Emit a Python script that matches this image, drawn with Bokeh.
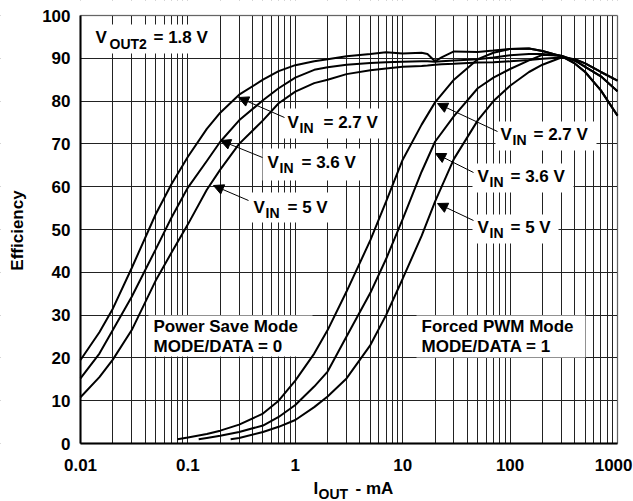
import math
from bokeh.plotting import figure
from bokeh.models import (Range1d, FixedTicker, Label, Arrow, NormalHead,
                          BoxAnnotation, CustomJSTickFormatter)
from bokeh.embed import file_html
from bokeh.resources import INLINE

# ---------------- data ----------------
# Power Save Mode (MODE/DATA = 0)
psm_current = [0.01, 0.015, 0.02, 0.03, 0.05, 0.07, 0.1, 0.15, 0.2, 0.3,
               0.5, 0.7, 1, 1.5, 2, 3, 5, 7, 10, 15,
               17, 20, 23, 30, 50, 70, 100, 150, 200, 300,
               400, 500, 700, 1000]
psm_vin27 = [19.5, 26, 31.5, 41, 53.5, 60.5, 67, 73.5, 77.3, 81.5,
             85, 87, 88.4, 89.3, 89.8, 90.5, 91, 91.4, 91.1, 91.3,
             91, 89.3, 90.2, 91.6, 91.5, 91.8, 92.2, 92.3, 91.7, 90.5,
             88.8, 86.8, 82.5, 76.6]
psm_vin36 = [15.2, 21, 26.5, 34.3, 45.3, 52.7, 59.8, 66, 70.5, 75.5,
             80.2, 83, 85.5, 87.3, 87.9, 88.5, 88.9, 89.1, 89.2, 89.3,
             89.3, 89.2, 89.3, 89.5, 89.8, 90.2, 90.7, 91, 91, 90.6,
             89.5, 88, 85.8, 82.3]
psm_vin5 = [10.8, 15.5, 19.6, 26.5, 38, 44.5, 51.2, 59.3, 64, 70,
            75.5, 79.5, 82.2, 84.2, 85, 86.3, 87.2, 87.6, 88, 88.2,
            88.3, 88.5, 88.6, 88.7, 89, 89.1, 89.3, 89.6, 89.9, 90.2,
            89.8, 88.8, 86.8, 84.8]

# Forced PWM Mode (MODE/DATA = 1)
pwm27_current = [0.08, 0.1, 0.15, 0.2, 0.3, 0.5, 0.7, 1, 1.5, 2, 3, 5, 7, 10,
                 15, 20, 30, 50, 70, 100, 150, 200, 300, 400, 500, 700, 1000]
pwm_vin27 = [1.0, 1.4, 2.2, 3.0, 4.4, 7.0, 10.0, 14.7, 21.0, 26.5, 35.5, 47.5,
             56.5, 66.3, 74.5, 79.7, 85.0, 89.8, 91.3, 92.2, 92.3, 91.7, 90.5,
             88.8, 86.8, 82.5, 76.6]
pwm36_current = [0.126, 0.15, 0.2, 0.3, 0.5, 0.7, 1, 1.5, 2, 3, 5, 7, 10, 15,
                 20, 30, 50, 70, 100, 150, 200, 300, 400, 500, 700, 1000]
pwm_vin36 = [1.0, 1.3, 1.8, 2.7, 4.2, 6.2, 9.0, 13.3, 16.8, 25.0, 35.2, 43.1,
             52.4, 63.5, 70.5, 76.5, 83.0, 85.5, 87.5, 89.5, 90.8, 90.6, 89.5,
             88.0, 85.8, 82.3]
pwm5_current = [0.25, 0.3, 0.5, 0.7, 1, 1.5, 2, 3, 5, 7, 10, 15, 20, 30, 50,
                70, 100, 150, 200, 300, 400, 500, 700, 1000]
pwm_vin5 = [1.0, 1.3, 2.7, 3.9, 5.5, 8.5, 11.0, 15.2, 23.0, 30.0, 38.5, 48.5,
            56.5, 66.5, 75.5, 80.0, 83.6, 86.8, 88.5, 90.2, 89.8, 88.8, 86.8,
            84.8]

x_major_ticks = [0.01, 0.1, 1, 10, 100, 1000]
x_minor_ticks = [m * 10.0 ** d for d in range(-2, 3) for m in range(2, 10)]
y_ticks = [0, 10, 20, 30, 40, 50, 60, 70, 80, 90, 100]
x_lim = (0.01, 1000)
y_lim = (0, 100)

# ---------------- layout helpers ----------------
W, H = 633, 501
FONT = "Liberation Sans"
FL, FR, FT, FB = 80, 617, 15, 443   # plot-area edges in page pixels
BASE_SHIFT = 6                      # alphabetic baseline correction (px)


def dx(px):
    return 10 ** (math.log10(x_lim[0]) + math.log10(x_lim[1] / x_lim[0]) * (px - FL) / (FR - FL))


def dy(py):
    return y_lim[0] + (y_lim[1] - y_lim[0]) * (FB - py) / (FB - FT)


# the frame covers the whole canvas so that every text can be placed freely;
# the axes are pinned to the plot-area edges
p = figure(width=W, height=H, x_axis_type="log",
           x_range=Range1d(dx(0), dx(W)), y_range=Range1d(dy(H), dy(0)),
           output_backend="svg", toolbar_location=None,
           min_border_left=0, min_border_right=0,
           min_border_top=0, min_border_bottom=0)
p.background_fill_color = "white"
p.border_fill_color = "white"
p.outline_line_color = None

xt = FixedTicker(ticks=x_major_ticks, minor_ticks=x_minor_ticks)
yt = FixedTicker(ticks=y_ticks)
p.xaxis.ticker = xt
p.xgrid.ticker = xt
p.yaxis.ticker = yt
p.ygrid.ticker = yt
p.xaxis.formatter = CustomJSTickFormatter(code="return tick > 999 ? '' : String(tick);")
p.xaxis.fixed_location = y_lim[0]
p.yaxis.fixed_location = x_lim[0]
p.xaxis.bounds = x_lim
p.yaxis.bounds = y_lim

for ax in (p.xaxis, p.yaxis):
    ax.axis_line_color = "black"
    ax.axis_line_width = 2
    ax.major_tick_line_color = None
    ax.minor_tick_line_color = None
    ax.major_tick_out = 0
    ax.major_tick_in = 0
    ax.minor_tick_out = 0
    ax.minor_tick_in = 0
    ax.major_label_text_font = FONT
    ax.major_label_text_font_style = "bold"
    ax.major_label_text_font_size = "17px"
    ax.major_label_text_color = "black"
p.xaxis.major_label_standoff = 15
p.yaxis.major_label_standoff = 10

p.xgrid.grid_line_color = "#222222"
p.xgrid.grid_line_width = 1
p.xgrid.minor_grid_line_color = "#222222"
p.xgrid.minor_grid_line_width = 1
p.ygrid.grid_line_color = "#222222"
p.ygrid.grid_line_width = 1


def white(l, r, b, t):
    p.add_layout(BoxAnnotation(left=l, right=r, bottom=b, top=t,
                               fill_color="white", fill_alpha=1.0,
                               line_color=None, level="underlay"))


def box(l, t, r, b):
    white(dx(l), dx(r), dy(b), dy(t))


# hide the grid outside the plot area
xr0, xr1, yr0, yr1 = dx(0), dx(W), dy(H), dy(0)
white(xr0, x_lim[0], yr0, yr1)
white(x_lim[1], xr1, yr0, yr1)
white(xr0, xr1, y_lim[1], yr1)
white(xr0, xr1, yr0, y_lim[0])

# plot-area border
p.add_layout(BoxAnnotation(left=x_lim[0], right=x_lim[1], bottom=y_lim[0], top=y_lim[1],
                           fill_color=None, fill_alpha=0.0,
                           line_color="black", line_width=1.5))


def txt(s, px, py, size=17, **kw):
    opts = dict(text_align="left", text_baseline="alphabetic")
    opts.update(kw)
    if opts["text_baseline"] == "alphabetic":
        py = py - BASE_SHIFT
    p.add_layout(Label(x=dx(px), y=dy(py), text=s, text_font=FONT,
                       text_font_style="bold", text_font_size=f"{size}px",
                       text_color="black", **opts))


def arrow(x0, y0, x1, y1):
    p.add_layout(Arrow(end=NormalHead(size=10, fill_color="black",
                                      line_color="black", line_width=1),
                       x_start=dx(x0), y_start=dy(y0), x_end=dx(x1), y_end=dy(y1),
                       line_color="black", line_width=1))


# white boxes behind annotation texts
box(90, 24, 218, 53)
box(282, 108, 383, 138)
box(262, 148, 362, 180)
box(248, 192, 335, 222)
box(495, 121, 596, 150)
box(472, 163, 573, 192)
box(472, 214, 558, 243)
box(148, 315, 312, 356)
box(416, 315, 585, 357)

# curves
for cur, eff in [(psm_current, psm_vin27), (psm_current, psm_vin36),
                 (psm_current, psm_vin5), (pwm27_current, pwm_vin27),
                 (pwm36_current, pwm_vin36), (pwm5_current, pwm_vin5)]:
    p.line(cur, eff, line_color="black", line_width=2)

# V_OUT2 label
txt("V", 95, 43)
txt("OUT2", 109, 49, size=14)
txt("= 1.8 V", 153, 43)

# Power save labels
txt("V", 287, 128)
txt("IN", 299, 133, size=14)
txt("= 2.7 V", 323, 128)
txt("V", 267, 168)
txt("IN", 279, 173, size=14)
txt("= 3.6 V", 301, 168)
txt("V", 253, 213)
txt("IN", 265, 218, size=14)
txt("= 5 V", 287, 213)

# PWM labels
txt("V", 500, 140)
txt("IN", 512, 145, size=14)
txt("= 2.7 V", 533, 140)
txt("V", 477, 182)
txt("IN", 489, 187, size=14)
txt("= 3.6 V", 510, 182)
txt("V", 477, 233)
txt("IN", 489, 238, size=14)
txt("= 5 V", 510, 233)

# mode labels
txt("Power Save Mode", 153, 332)
txt("MODE/DATA = 0", 153, 352)
txt("Forced PWM Mode", 421, 332)
txt("MODE/DATA = 1", 421, 352)

# arrows
arrow(284, 117, 238, 97)
arrow(262, 157, 220, 140)
arrow(248, 200, 213, 185)
arrow(497, 131, 437, 103)
arrow(473, 172, 435, 153)
arrow(473, 220, 437, 203)

# axis titles and last tick label
txt("Efficiency", 17, 230, angle=math.pi / 2, text_align="center", text_baseline="middle")
txt("I", 313, 494)
txt("OUT", 318, 499, size=14)
txt("- mA", 355, 494)
txt("1000", 632, FB + 15, text_align="right", text_baseline="top")

open("out.html", "w").write(file_html(p, INLINE))
